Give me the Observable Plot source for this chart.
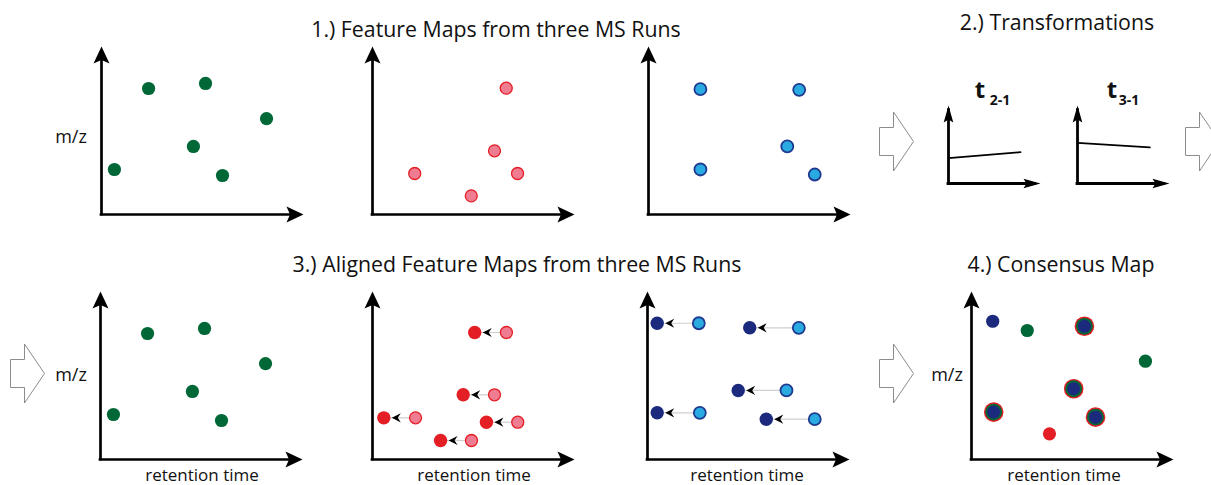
<!DOCTYPE html>
<html><head><meta charset="utf-8">
<script src="https://cdn.jsdelivr.net/npm/d3@7"></script>
<script src="https://cdn.jsdelivr.net/npm/@observablehq/plot@0.6"></script>
<style>
body{margin:0;background:#fff;}
#fig{position:relative;width:1211px;height:485px;overflow:hidden;font-family:"Open Sans",sans-serif;color:#111;}
.lbl{position:absolute;white-space:nowrap;line-height:1;transform:translate(-50%,-50%);}
.title{font-size:21.3px;}
.ax{font-size:17px;}
.mz{font-size:18px;}
.tb{font-weight:bold;}
svg{overflow:visible;}
</style></head><body><div id="fig"></div>
<script>
// ---------- data (retention time / m/z in arbitrary units 0–10) ----------
const run1 = [
  {rt:2.33, mz:7.50},{rt:5.15, mz:7.80},{rt:8.17, mz:5.71},
  {rt:4.55, mz:4.05},{rt:0.64, mz:2.68},{rt:5.99, mz:2.32}];
const run2 = [
  {rt:6.62, mz:7.52},{rt:6.04, mz:3.79},{rt:2.09, mz:2.44},
  {rt:7.18, mz:2.44},{rt:4.89, mz:1.11}];
const run3 = [
  {rt:2.57, mz:7.46},{rt:7.46, mz:7.42},{rt:6.87, mz:4.05},
  {rt:2.57, mz:2.68},{rt:8.23, mz:2.38}];
// aligned maps: original rt, aligned rt
const aligned2 = [
  {rt:6.63, rtA:5.06, mz:7.56},{rt:6.04, rtA:4.49, mz:3.85},
  {rt:2.13, rtA:0.56, mz:2.48},{rt:7.19, rtA:5.64, mz:2.22},
  {rt:4.90, rtA:3.37, mz:1.13}];
const aligned3 = [
  {rt:2.54, rtA:0.48, mz:8.11},{rt:7.49, rtA:5.06, mz:7.84},
  {rt:6.88, rtA:4.49, mz:4.11},{rt:2.59, rtA:0.48, mz:2.78},
  {rt:8.28, rtA:5.88, mz:2.40}];
// transformations (rt -> rt')
const t21 = [{rt:0, v:3.24},{rt:7.83, v:4.01}];
const t31 = [{rt:0, v:5.22},{rt:7.86, v:4.62}];
// consensus map
const consensusSingle = [
  {rt:1.05, mz:8.23, run:"3"},{rt:2.76, mz:7.68, run:"1"},
  {rt:8.61, mz:5.85, run:"1"},{rt:3.86, mz:1.53, run:"2"}];
const consensusAll = [
  {rt:5.59, mz:7.93},{rt:5.06, mz:4.21},{rt:1.10, mz:2.82},{rt:6.14, mz:2.52}];

const GREEN = "#006837", PINK = "#f07c91", RED = "#e31e24",
      LBLUE = "#29abe2", DBLUE = "#1c2a7d", BSTROKE = "#1f3a8f";
const runColor = {"1":GREEN, "2":RED, "3":DBLUE};

// ---------- custom symbols ----------
const headSym = (len, half, notch) => ({draw(ctx, size){
  const k = Math.sqrt(size / Math.PI);
  ctx.moveTo(0, 0); ctx.lineTo(half*k, len*k); ctx.lineTo(0, notch*k);
  ctx.lineTo(-half*k, len*k); ctx.closePath();
}});
const blockArrow = {draw(ctx, size){
  const k = Math.sqrt(size / Math.PI);
  const pts = [[-17,-14],[-3,-14],[-3,-29.5],[17,0],[-3,29.5],[-3,14],[-17,14]];
  ctx.moveTo(pts[0][0]*k, pts[0][1]*k);
  for (const p of pts.slice(1)) ctx.lineTo(p[0]*k, p[1]*k);
  ctx.closePath();
}};

const fig = document.getElementById("fig");
function place(node, left, top){
  node.style.position = "absolute"; node.style.left = left + "px"; node.style.top = top + "px";
  fig.appendChild(node);
}
function label(text, cx, cy, cls){
  const d = document.createElement("div");
  d.className = "lbl " + cls; d.innerHTML = text;
  d.style.left = cx + "px"; d.style.top = cy + "px";
  fig.appendChild(d);
}

function axesMarks(sw, head){
  return [
    Plot.ruleX([0], {y1:0, y2:9.4, stroke:"#000", strokeWidth:sw, strokeLinecap:"square"}),
    Plot.ruleY([0], {x1:0, x2:9.4, stroke:"#000", strokeWidth:sw, strokeLinecap:"square"}),
    Plot.dot([{x:0, y:10, a:0},{x:10, y:0, a:90}],
      {x:"x", y:"y", rotate:"a", symbol:head, r:1, fill:"#000", stroke:"none"})
  ];
}
function mapPlot(marks){
  return Plot.plot({
    width:226, height:192, marginLeft:12, marginRight:12, marginTop:12, marginBottom:12,
    x:{domain:[0,10], axis:null}, y:{domain:[0,10], axis:null},
    style:{background:"transparent", overflow:"visible"},
    marks:[...axesMarks(2.7, headSym(17, 8, 13.5)), ...marks]
  });
}
function transPlot(data){
  return Plot.plot({
    width:110, height:96, marginLeft:10, marginRight:8, marginTop:8, marginBottom:10,
    x:{domain:[0,10], axis:null}, y:{domain:[0,10], axis:null},
    style:{background:"transparent", overflow:"visible"},
    marks:[...axesMarks(2.8, headSym(17, 4.8, 14)),
      Plot.line(data, {x:"rt", y:"v", stroke:"#000", strokeWidth:1.8})]
  });
}
function arrowPlot(){
  return Plot.plot({
    width:40, height:64, margin:0, x:{axis:null}, y:{axis:null},
    style:{background:"transparent", overflow:"visible"},
    marks:[Plot.dot([0], {frameAnchor:"middle", symbol:blockArrow, r:1,
      fill:"#fff", stroke:"#8c8c8c", strokeWidth:1})]
  });
}
const shiftHead = headSym(9, 4.6, 6);

// ---------- top row ----------
place(mapPlot([Plot.dot(run1, {x:"rt", y:"mz", r:6.6, fill:GREEN})]), 89, 34);
place(mapPlot([Plot.dot(run2, {x:"rt", y:"mz", r:6, fill:PINK, stroke:RED, strokeWidth:1.3})]), 360, 34);
place(mapPlot([Plot.dot(run3, {x:"rt", y:"mz", r:6, fill:LBLUE, stroke:BSTROKE, strokeWidth:1.8})]), 636, 34);
place(transPlot(t21), 938, 97);
place(transPlot(t31), 1067, 97);

// ---------- bottom row ----------
place(mapPlot([Plot.dot(run1, {x:"rt", y:"mz", r:6.6, fill:GREEN})]), 88, 279);
place(mapPlot([
  Plot.link(aligned2, {x1:"rtA", x2:"rt", y1:"mz", y2:"mz", stroke:"#cfcfcf", strokeWidth:1.2}),
  Plot.dot(aligned2, {x:"rt", y:"mz", r:6, fill:PINK, stroke:RED, strokeWidth:1.3}),
  Plot.dot(aligned2, {x:"rtA", y:"mz", r:6.7, fill:RED}),
  Plot.dot(aligned2, {x:"rtA", y:"mz", dx:8, rotate:-90, symbol:shiftHead, r:1, fill:"#000"})
]), 360, 279);
place(mapPlot([
  Plot.link(aligned3, {x1:"rtA", x2:"rt", y1:"mz", y2:"mz", stroke:"#cfcfcf", strokeWidth:1.2}),
  Plot.dot(aligned3, {x:"rt", y:"mz", r:6, fill:LBLUE, stroke:BSTROKE, strokeWidth:1.8}),
  Plot.dot(aligned3, {x:"rtA", y:"mz", r:6.7, fill:DBLUE}),
  Plot.dot(aligned3, {x:"rtA", y:"mz", dx:8, rotate:-90, symbol:shiftHead, r:1, fill:"#000"})
]), 635, 279);
place(mapPlot([
  Plot.dot(consensusSingle, {x:"rt", y:"mz", r:6.6, fill:d => runColor[d.run]}),
  Plot.dot(consensusAll, {x:"rt", y:"mz", r:9.8, fill:RED}),
  Plot.dot(consensusAll, {x:"rt", y:"mz", r:8.4, fill:GREEN}),
  Plot.dot(consensusAll, {x:"rt", y:"mz", r:6.5, fill:DBLUE})
]), 959, 279);

// ---------- block arrows ----------
place(arrowPlot(), 876, 109);
place(arrowPlot(), 1182, 109);
place(arrowPlot(), 7, 341);
place(arrowPlot(), 876, 341);

// ---------- texts ----------
label("1.) Feature Maps from three MS Runs", 496, 29, "title");
label("2.) Transformations", 1057, 22, "title");
label("3.) Aligned Feature Maps from three MS Runs", 517, 264, "title");
label("4.) Consensus Map", 1061, 264, "title");
label("m/z", 71, 136, "mz");
label("m/z", 71, 374, "mz");
label("m/z", 947, 374, "mz");
label("retention time", 202, 474, "ax");
label("retention time", 474, 474, "ax");
label("retention time", 747, 474, "ax");
label("retention time", 1064, 474, "ax");
label('<span style="font-size:24px">t</span>', 980, 89, "tb");
label('<span style="font-size:14px">2-1</span>', 1000, 99, "tb");
label('<span style="font-size:24px">t</span>', 1112, 89, "tb");
label('<span style="font-size:14px">3-1</span>', 1129, 99, "tb");
</script></body></html>
